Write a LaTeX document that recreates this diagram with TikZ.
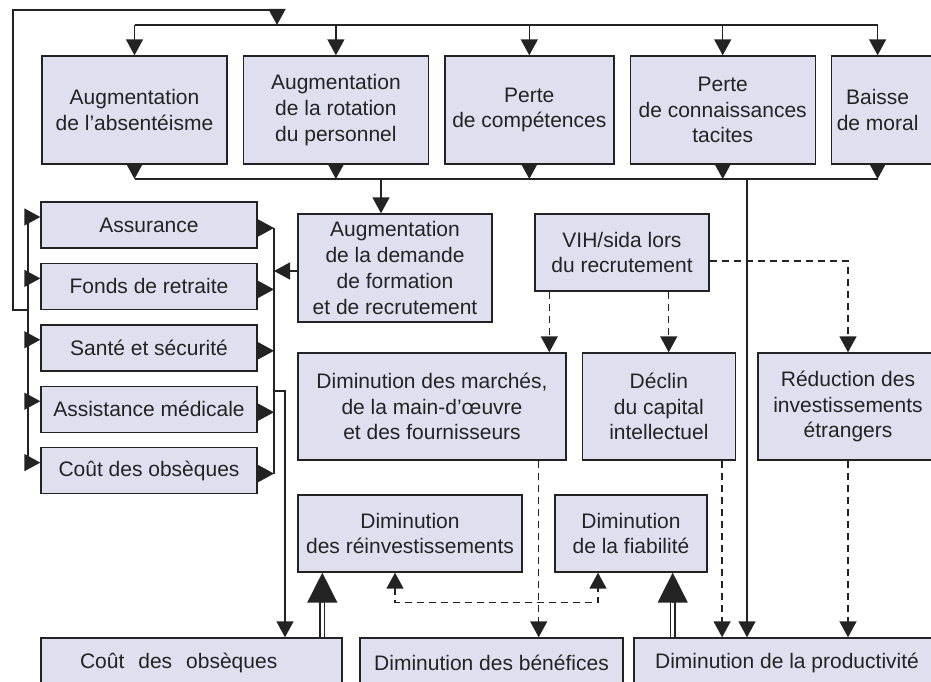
\documentclass[tikz,border=0pt]{standalone}
\usepackage{fontspec}
\setmainfont{Liberation Sans}
\usepackage{xcolor}
\usepackage{tikz}
\usetikzlibrary{arrows.meta, positioning}
\definecolor{boxfill}{RGB}{222,224,239}
\definecolor{linecol}{RGB}{35,35,35}

\begin{document}
\begin{tikzpicture}[
    x=1pt, y=-1pt,
    node distance=14pt and 15pt,
    % Styles des nœuds
    boxtext/.style={align=center, font=\fontsize{21pt}{25.7pt}\selectfont, text=linecol},
    box/.style={rectangle, draw=linecol, fill=boxfill, line width=1.4pt, inner sep=0pt, boxtext},
    topbox/.style={box, minimum width=185pt, minimum height=108pt},
    costbox/.style={box, minimum width=216pt, minimum height=46pt},
    midbox/.style={box, minimum height=107pt},
    lowbox/.style={box, minimum height=77pt},
    endbox/.style={box, minimum height=50pt},
    bus/.style={line width=1.5pt, linecol},
    arrow/.style={->, >={Triangle[width=17pt,length=16pt]}, line width=1.5pt, linecol},
    dashline/.style={arrow, dash pattern=on 7pt off 5pt},
    dbl/.style={double=white, double distance=2.5pt, line width=1.8pt, draw=linecol},
    bigtip/.style={-{Triangle[width=30pt,length=30pt]}, line width=1.5pt, linecol}
]
\useasboundingbox (0,0) rectangle (931,682);
\clip (0,0) rectangle (931,682);

% Rangée du haut
\node[topbox] (absent) at (134.5,110) {Augmentation\\de l’absentéisme};
\node[topbox, right=of absent] (rotation) {Augmentation\\de la rotation\\du personnel};
\node[topbox, minimum width=169pt, right=of rotation] (compet) {Perte\\de compétences};
\node[topbox, right=of compet] (tacites) {Perte\\de connaissances\\tacites};
\node[topbox, right=of tacites, label={[boxtext, xshift=-46.5pt]center:{Baisse\\de moral}}] (moral) {};

% Coûts à gauche
\node[costbox] (assur) at (149,225) {Assurance};
\node[costbox, below=of assur] (fonds) {Fonds de retraite};
\node[costbox, below=of fonds] (sante) {Santé et sécurité};
\node[costbox, below=of sante] (assist) {Assistance médicale};
\node[costbox, below=of assist] (cout) {Coût des obsèques};

% Milieu
\node[box, minimum width=194pt, minimum height=108pt] (demande) at (395,268) {Augmentation\\de la demande\\de formation\\et de recrutement};
\node[box, minimum width=174pt, minimum height=77pt] (vih) at (622,252.5) {VIH/sida lors\\du recrutement};
\node[midbox, minimum width=268pt] (marches) at (432,406.5) {Diminution des marchés,\\de la main-d’œuvre\\et des fournisseurs};
\node[midbox, minimum width=153pt, right=of marches] (declin) {Déclin\\du capital\\intellectuel};
\node[midbox, minimum width=180pt] (reduc) at (848,406.5) {Réduction des\\investissements\\étrangers};
\node[lowbox, minimum width=224pt] (reinv) at (410,533.5) {Diminution\\des réinvestissements};
\node[lowbox, minimum width=152pt] (fiab) at (631,533.5) {Diminution\\de la fiabilité};

% Rangée du bas
\node[endbox, text width=223pt, align=left, inner xsep=39pt] (coutbas) at (191.5,663) {Coût~~des~~obsèques};
\node[endbox, minimum width=263pt] (benef) at (491.5,663) {Diminution des bénéfices};
\node[endbox, minimum width=306pt] (prod) at (787,663) {Diminution de la productivité};

% Points des bus
\coordinate (busN) at (277,25);
\coordinate (busS) at (381,179);
\coordinate (busE) at (747,179);
\coordinate (loop) at (13,10);
\coordinate (lbus) at (28,0);
\coordinate (rbus) at (274,0);
\coordinate (drop) at (285,0);
\coordinate (moraltop) at ([xshift=-46.5pt]moral.north);
\coordinate (moralbot) at ([xshift=-46.5pt]moral.south);

% Bus du haut et du bas
\draw[bus] (absent.north |- busN) -- (moraltop |- busN);
\draw[bus] (absent.south |- busS) -- (moralbot |- busS);
\foreach \b in {absent,rotation,compet,tacites} {
  \draw[arrow] (\b.north |- busN) -- (\b.north);
  \draw[arrow] (\b.south) -- (\b.south |- busS);
}
\draw[arrow] (moraltop |- busN) -- (moraltop);
\draw[arrow] (moralbot) -- (moralbot |- busS);
\draw[arrow] (busS) -- (busS |- demande.north);
\draw[arrow] (busE) -- (busE |- prod.north);

% Bus des coûts
\foreach \b in {assur,fonds,sante,assist,cout} {
  \coordinate (in\b) at ([yshift=8pt]\b.west);
  \coordinate (out\b) at ([yshift=-3pt]\b.east);
  \draw[arrow] (lbus |- in\b) -- (in\b);
  \draw[arrow] (out\b) -- (out\b -| rbus);
}
\draw[bus] (lbus |- inassur) -- (lbus |- incout);
\draw[bus] (rbus |- outassur) -- (rbus |- outcout);
\draw[arrow] (lbus |- fonds.south) -| (loop) -| (busN);
\coordinate (outdem) at ([yshift=-3pt]demande.west);
\draw[arrow] (outdem) -- (outdem -| rbus);
\coordinate (tap) at ([yshift=18pt]assist.east);
\draw[arrow] (tap -| rbus) -| (drop |- coutbas.north);

% Liens en tirets
\coordinate (vihA) at ([xshift=15pt]vih.south west);
\coordinate (vihB) at ([xshift=-41pt]vih.south east);
\coordinate (vihC) at ([yshift=-8.5pt]vih.east);
\draw[dashline] (vihA) -- (vihA |- marches.north);
\draw[dashline] (vihB) -- (vihB |- declin.north);
\draw[dashline] (vihC) -| (reduc.north);
\coordinate (marA) at ([xshift=-28pt]marches.south east);
\coordinate (decA) at ([xshift=-14pt]declin.south east);
\draw[dashline] (marA) -- (marA |- benef.north);
\draw[dashline] (decA) -- (decA |- prod.north);
\draw[dashline] (reduc.south) -- (reduc.south |- prod.north);
\coordinate (reA) at ([xshift=-15pt]reinv.south);
\coordinate (fiA) at ([xshift=-33pt]fiab.south);
\draw[dashline, <->] (reA) -- ++(0,30) -| (fiA);

% Flèches doubles
\coordinate (reB) at ([xshift=25pt]reinv.south west);
\coordinate (fiB) at ([xshift=-35pt]fiab.south east);
\draw[dbl, shorten >=28pt] (reB |- coutbas.north) -- (reB);
\draw[bigtip] ([yshift=-30pt]reB) -- (reB);
\draw[dbl, shorten >=28pt] (fiB |- prod.north) -- (fiB);
\draw[bigtip] ([yshift=-30pt]fiB) -- (fiB);

\end{tikzpicture}
\end{document}
